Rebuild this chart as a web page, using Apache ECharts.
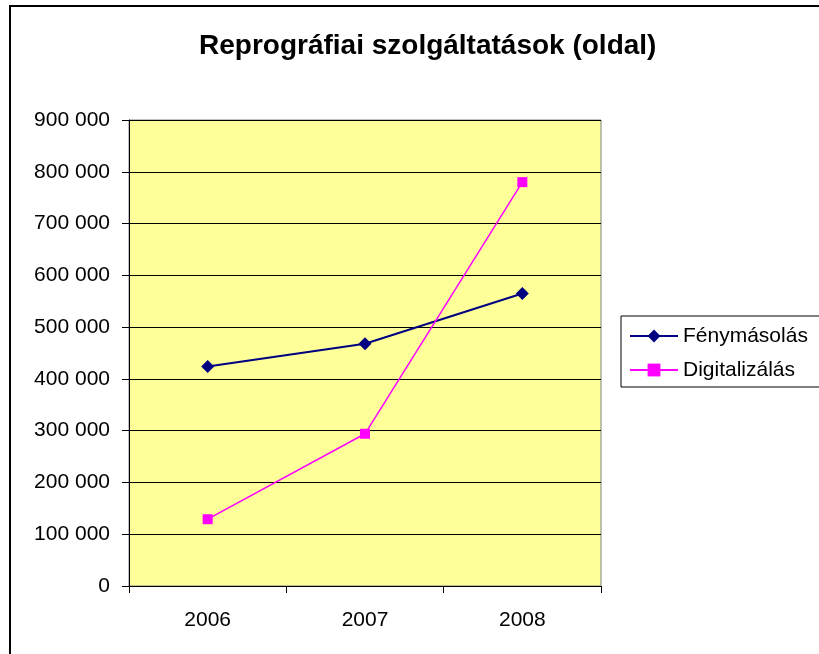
<html>
<head>
<meta charset="utf-8">
<title>Reprográfiai szolgáltatások</title>
<script src="https://cdn.jsdelivr.net/npm/echarts@6/dist/echarts.min.js"></script>
<style>
    body { margin: 0; background: #fff; }
    #main { width: 819px; height: 654px; }
</style>
</head>
<body>
<div id="main"></div>
<script type="text/javascript">
// adatok
var years = ['2006', '2007', '2008'];
var fenymasolas = [424000, 468000, 565000];
var digitalizalas = [129000, 294000, 780000];

var myChart = echarts.init(document.getElementById('main'));

function fmt(v) {
    // 900000 -> "900 000"
    return String(v).replace(/\B(?=(\d{3})+(?!\d))/g, ' ');
}

var font = 'Liberation Sans, Arial, sans-serif';

var option = {
    backgroundColor: '#fff',
    animation: false,
    title: {
        text: 'Reprográfiai szolgáltatások (oldal)',
        left: 194,
        top: 27,
        textStyle: { fontFamily: font, fontSize: 28, fontWeight: 'bold', color: '#000' }
    },
    graphic: [{
        type: 'rect',
        shape: { x: 10, y: 6, width: 900, height: 900 },
        style: { fill: 'none', stroke: '#000', lineWidth: 2 },
        silent: true
    }],
    legend: {
        left: 621,
        top: 316,
        orient: 'vertical',
        backgroundColor: '#fff',
        borderColor: '#000',
        borderWidth: 1,
        borderRadius: 0,
        padding: [9, 200, 6, 8],
        itemWidth: 48,
        itemHeight: 16,
        itemGap: 12,
        textStyle: { fontFamily: font, fontSize: 21, color: '#000', lineHeight: 22 },
        data: ['Fénymásolás', 'Digitalizálás']
    },
    grid: {
        left: 129,
        top: 120,
        width: 472,
        height: 466,
        show: true,
        backgroundColor: '#FFFF99',
        borderColor: '#808080',
        borderWidth: 1
    },
    xAxis: {
        type: 'category',
        data: years,
        boundaryGap: true,
        axisLine: { lineStyle: { color: '#000', width: 1 } },
        axisTick: { show: true, length: 7, inside: false, lineStyle: { color: '#000' } },
        axisLabel: { margin: 24, fontFamily: font, fontSize: 21, color: '#000' }
    },
    yAxis: {
        type: 'value',
        min: 0,
        max: 900000,
        interval: 100000,
        axisLine: { show: true, lineStyle: { color: '#000', width: 1 } },
        axisTick: { show: true, length: 7, lineStyle: { color: '#000' } },
        splitLine: { show: true, lineStyle: { color: '#000', width: 1 } },
        axisLabel: { margin: 19, fontFamily: font, fontSize: 21, color: '#000', formatter: fmt }
    },
    series: [
        {
            name: 'Fénymásolás',
            type: 'line',
            data: fenymasolas,
            symbol: 'diamond',
            symbolSize: 13,
            lineStyle: { color: '#000080', width: 2 },
            itemStyle: { color: '#000080' }
        },
        {
            name: 'Digitalizálás',
            type: 'line',
            data: digitalizalas,
            symbol: 'rect',
            symbolSize: 10,
            lineStyle: { color: '#FF00FF', width: 1.5 },
            itemStyle: { color: '#FF00FF' }
        }
    ]
};
myChart.setOption(option);
</script>
</body>
</html>
